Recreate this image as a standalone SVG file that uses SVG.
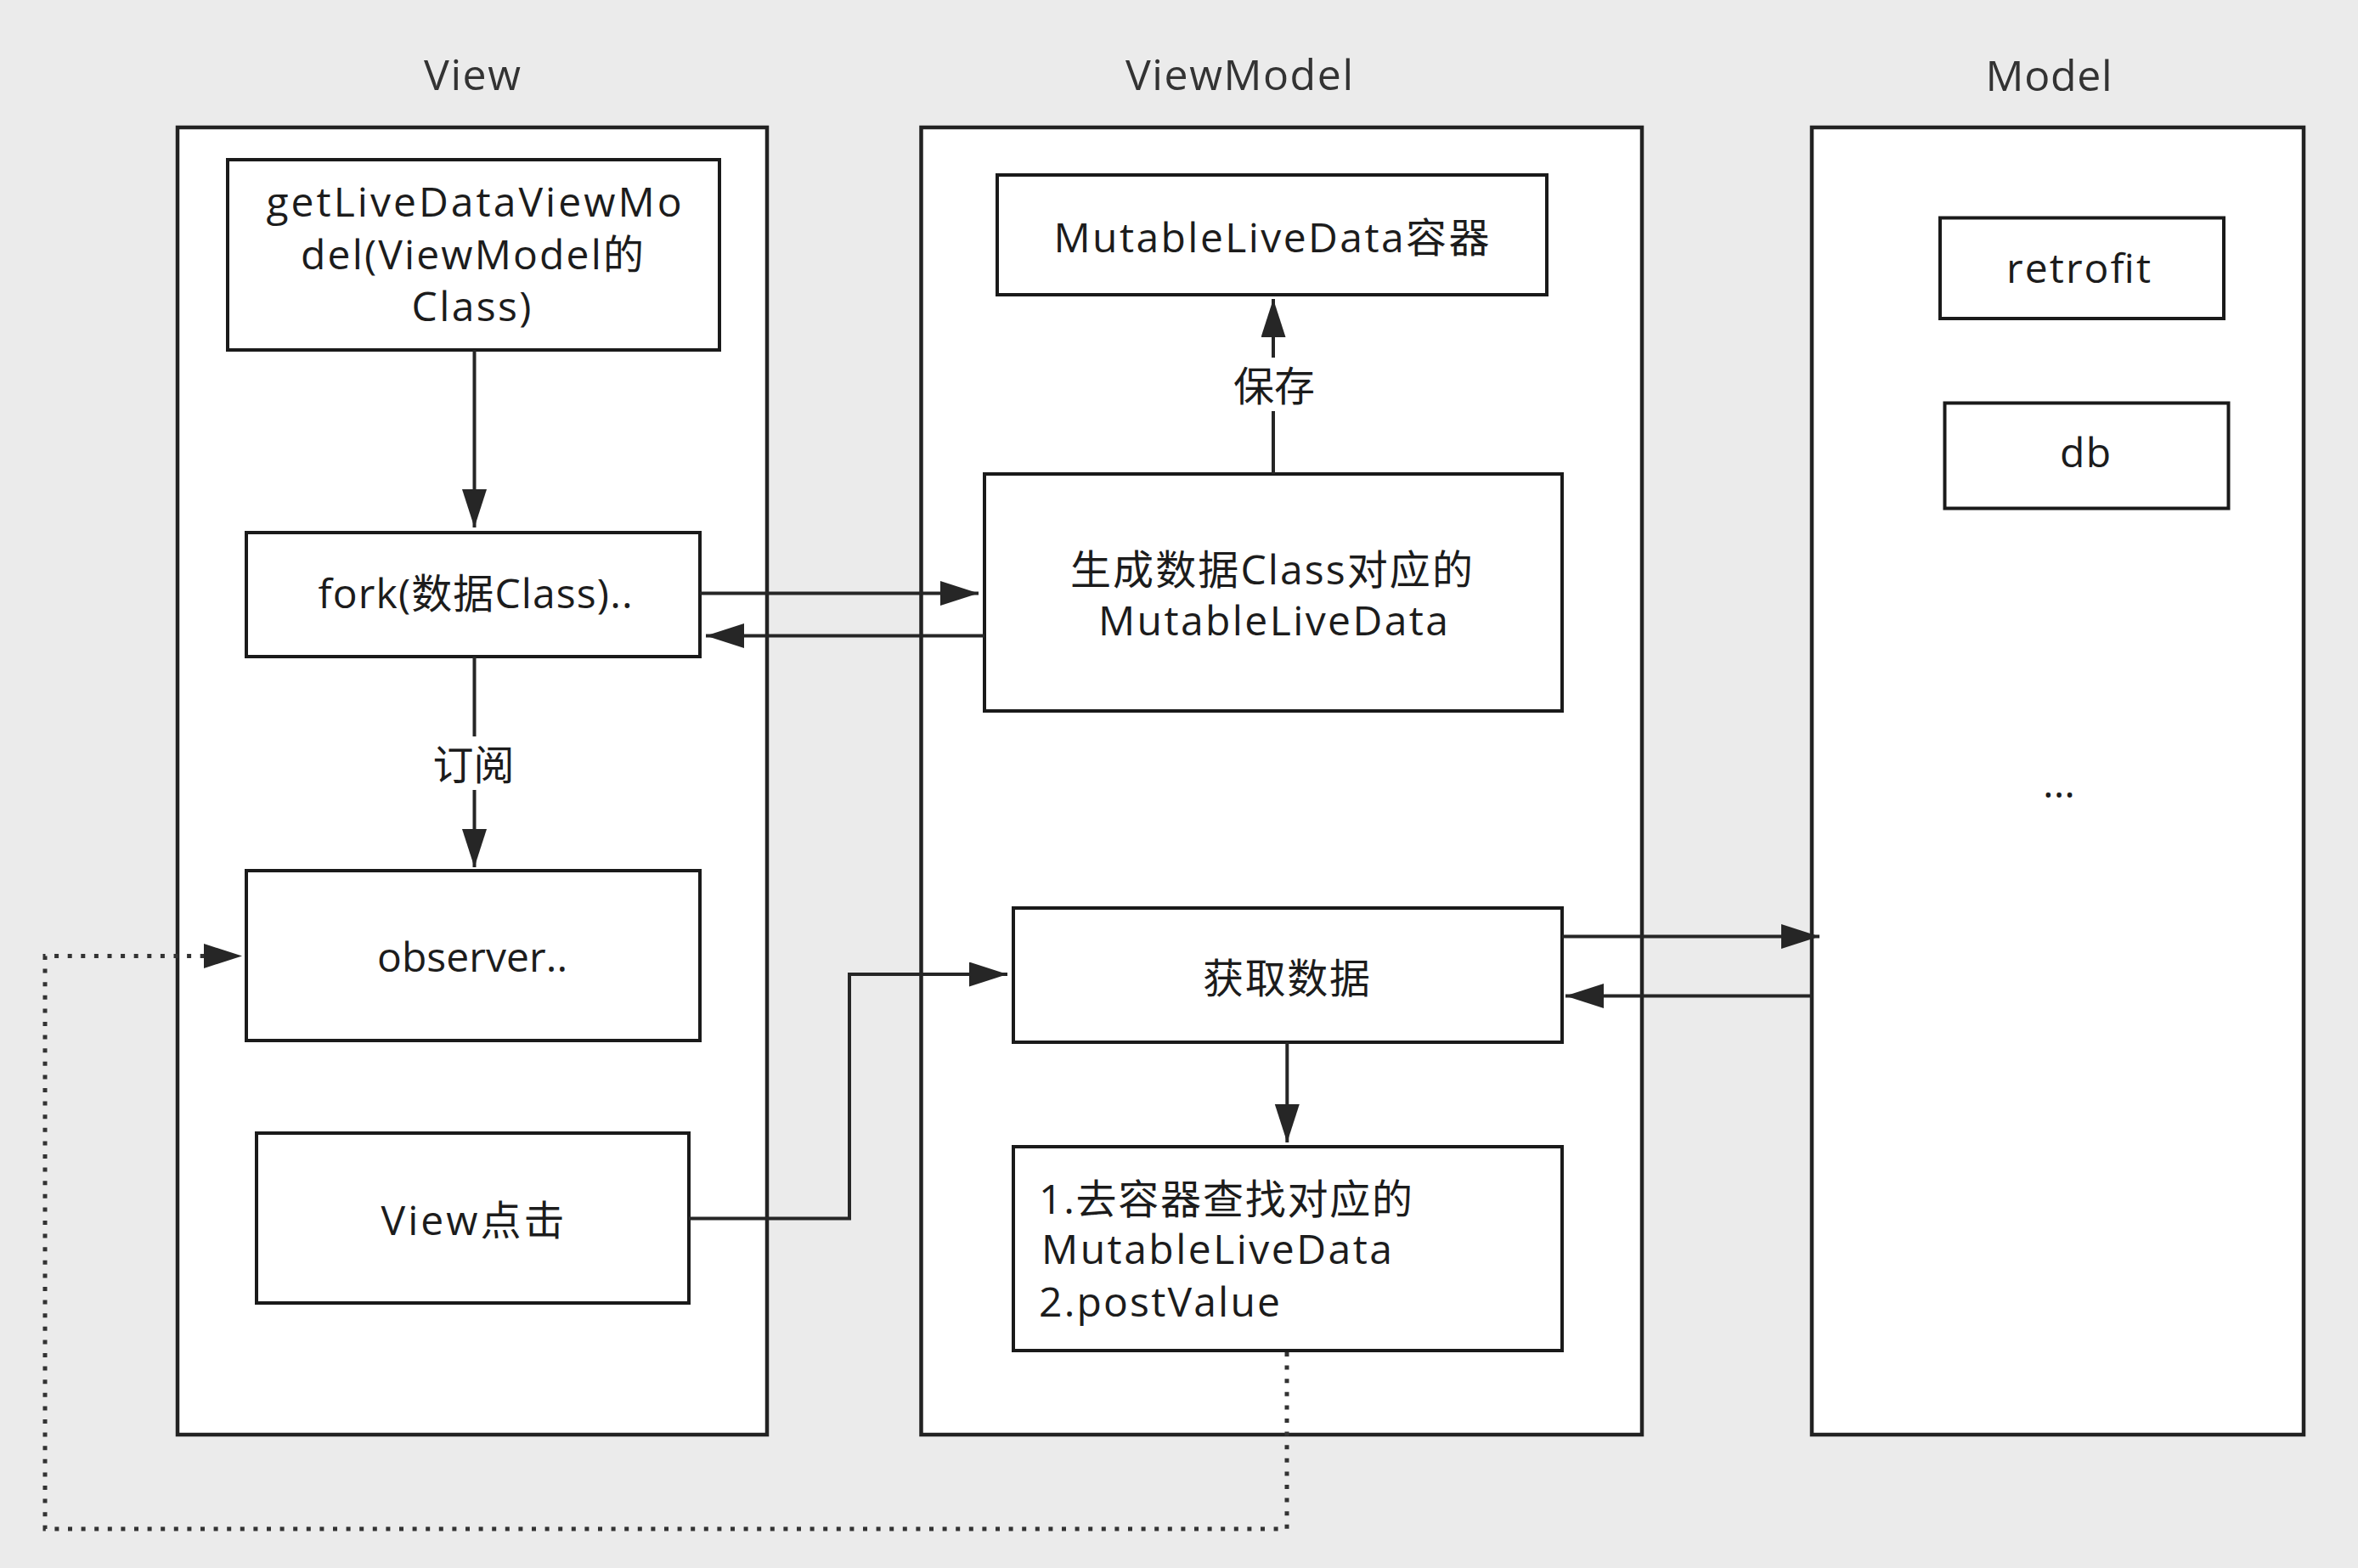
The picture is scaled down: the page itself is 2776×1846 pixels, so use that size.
<svg xmlns="http://www.w3.org/2000/svg" width="2776" height="1846" viewBox="0 0 2776 1846">
<defs>
<style>
.bg{fill:#ebebeb}
.ctr{fill:#ffffff;stroke:#222;stroke-width:4.5}
.box{fill:#ffffff;stroke:#1a1a1a;stroke-width:4}
.t{font-family:"Open Sans","Noto Sans CJK SC",sans-serif;font-size:48px;fill:#1c1c1c}
.h{font-family:"Open Sans","Noto Sans CJK SC",sans-serif;font-size:50px;fill:#333}
.c{text-anchor:middle}
.ln{fill:none;stroke:#262626;stroke-width:4}
.dot{fill:none;stroke:#333;stroke-width:5;stroke-dasharray:5 10.6}
.lbl{fill:#ffffff}
</style>
<marker id="ah" markerUnits="userSpaceOnUse" markerWidth="46" markerHeight="30" refX="45" refY="14.5" orient="auto">
<path d="M0,0 L45,14.5 L0,29 z" fill="#262626"/>
</marker>
</defs>
<rect class="bg" x="0" y="0" width="2776" height="1846"/>

<g id="lane-view">
<rect class="ctr" x="209" y="150" width="694" height="1539"/>
<text class="h c" x="556" y="106" textLength="114">View</text>
</g>
<g id="lane-viewmodel">
<rect class="ctr" x="1084.5" y="150" width="848.5" height="1539"/>
<text class="h c" x="1459" y="106" textLength="268">ViewModel</text>
</g>
<g id="lane-model">
<rect class="ctr" x="2133" y="150" width="579" height="1539"/>
<text class="h c" x="2412" y="107" textLength="149">Model</text>
</g>

<g id="node-getlivedata">
<rect class="box" x="268" y="188" width="579" height="224"/>
<text class="t c" x="558" y="255" textLength="489">getLiveDataViewMo</text>
<text class="t c" x="556" y="317" textLength="404">del(ViewModel的</text>
<text class="t c" x="555" y="378" textLength="141">Class)</text>
</g>
<g id="node-fork">
<rect class="box" x="290" y="627" width="534" height="146"/>
<text class="t c" x="559.5" y="716" textLength="370">fork(数据Class)..</text>
</g>
<g id="node-observer">
<rect class="box" x="290" y="1025" width="534" height="200"/>
<text class="t c" x="556" y="1144" textLength="224">observer..</text>
</g>
<g id="node-viewclick">
<rect class="box" x="302" y="1334" width="509" height="200"/>
<text class="t c" x="556.5" y="1454" textLength="216">View点击</text>
</g>

<g id="node-container">
<rect class="box" x="1174" y="206" width="647" height="141"/>
<text class="t c" x="1497" y="297" textLength="513">MutableLiveData容器</text>
</g>
<g id="node-generate">
<rect class="box" x="1159" y="558" width="680" height="279"/>
<text class="t c" x="1497" y="688" textLength="474">生成数据Class对应的</text>
<text class="t c" x="1499" y="748" textLength="412">MutableLiveData</text>
</g>
<g id="node-fetch">
<rect class="box" x="1193" y="1069" width="646" height="158"/>
<text class="t c" x="1514.5" y="1169" textLength="197">获取数据</text>
</g>
<g id="node-lookup">
<rect class="box" x="1193" y="1350" width="646" height="240"/>
<text class="t" x="1223" y="1429" textLength="440">1.去容器查找对应的</text>
<text class="t" x="1226" y="1488" textLength="413">MutableLiveData</text>
<text class="t" x="1223" y="1550" textLength="284">2.postValue</text>
</g>

<g id="node-retrofit">
<rect class="box" x="2284" y="256.5" width="334" height="118.5"/>
<text class="t c" x="2447" y="333" textLength="170">retrofit</text>
</g>
<g id="node-db">
<rect class="box" x="2289.5" y="474.5" width="334" height="124"/>
<text class="t c" x="2455" y="550" textLength="60">db</text>
</g>
<g id="node-more">
<text class="t c" x="2424" y="939">...</text>
</g>

<g id="connectors">
<path class="ln" d="M558.5,412 V621" marker-end="url(#ah)"/>
<path class="ln" d="M824,698.5 H1152" marker-end="url(#ah)"/>
<path class="ln" d="M1159,748.5 H831" marker-end="url(#ah)"/>
<path class="ln" d="M558.5,773 V1021" marker-end="url(#ah)"/>
<rect class="lbl" x="505" y="867" width="105" height="63"/>
<text class="t c" x="557.5" y="918">订阅</text>
<path class="ln" d="M1499,558 V352" marker-end="url(#ah)"/>
<rect class="lbl" x="1447" y="421" width="105" height="63"/>
<text class="t c" x="1500" y="472">保存</text>
<path class="ln" d="M811,1434.5 H1000 V1147 H1186" marker-end="url(#ah)"/>
<path class="ln" d="M1839,1102.5 H2142" marker-end="url(#ah)"/>
<path class="ln" d="M2133,1172.5 H1843" marker-end="url(#ah)"/>
<path class="ln" d="M1515.3,1227 V1345" marker-end="url(#ah)"/>
<path class="dot" d="M1515,1592 V1800 H53 V1125.5 H242"/>
<path class="ln" d="M242,1125.5 H285" marker-end="url(#ah)" stroke-opacity="0"/>
</g>
</svg>
